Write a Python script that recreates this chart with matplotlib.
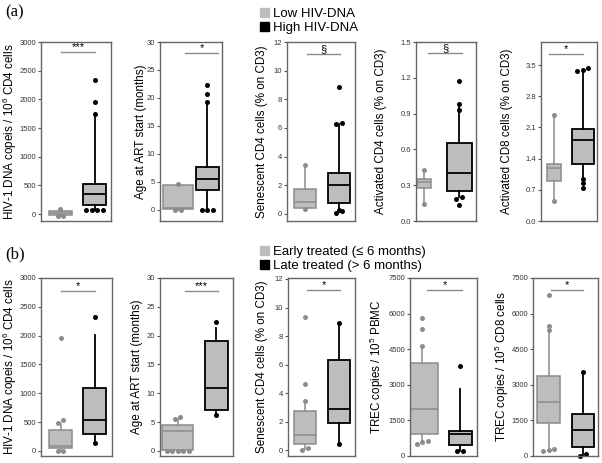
import numpy as np
import matplotlib
matplotlib.use('Agg')
import matplotlib.pyplot as plt
from matplotlib.patches import Patch

plt.rcParams['font.family'] = ['Liberation Sans', 'DejaVu Sans']
plt.rcParams['mathtext.fontset'] = 'custom'
plt.rcParams['mathtext.rm'] = 'Liberation Sans'

#%% data  (whislo, q1, median, q3, whishi)
top_ylabels = ['HIV-1 DNA copeis / 10$^6$ CD4 cells', 'Age at ART start (months)',
               'Senescent CD4 cells (% on CD3)', 'Activated CD4 cells (% on CD3)',
               'Activated CD8 cells (% on CD3)']
top_low = [[-25, -15, 20, 55, 80],
           [0.0, 0.2, 0.3, 4.5, 4.7],
           [0.35, 0.42, 0.82, 1.76, 3.41],
           [0.14, 0.28, 0.33, 0.355, 0.43],
           [0.45, 0.90, 1.18, 1.28, 2.39]]
top_low_fliers = [[-25, -25, 85],
                  [0.0, 0.0, 4.7],
                  [0.35, 3.41],
                  [0.14, 0.43],
                  [0.45, 2.39]]
top_high = [[80, 157, 350, 524, 1740],
            [0.0, 3.5, 5.5, 7.7, 19.3],
            [0.3, 0.75, 1.98, 2.87, 6.3],
            [0.2, 0.25, 0.40, 0.65, 0.98],
            [0.95, 1.28, 1.81, 2.07, 3.38]]
top_high_fliers = [[76, 76, 76, 80, 1740, 1950, 2330],
                   [0.0, 0.0, 0.0, 19.2, 20.7, 22.4],
                   [0.3, 0.22, 0.05, 6.3, 6.35, 8.85],
                   [0.2, 0.185, 0.13, 0.93, 0.98, 1.17],
                   [0.95, 0.85, 0.75, 3.36, 3.40, 3.43]]
top_sig = ['***', '*', '§', '§', '*']
top_sig_y = [2825, 28.0, 11.15, 1.41, 3.75]
top_ylim = [(-120, 3000), (-2, 30), (-0.5, 12), (0, 1.5), (0, 4.02)]
top_ticks = [np.arange(0, 3001, 500), np.arange(0, 31, 5), np.arange(0, 13, 2),
             [0.0, 0.3, 0.6, 0.9, 1.2, 1.5], [0.0, 0.7, 1.4, 2.1, 2.8, 3.5]]
top_fmt = ['{:.0f}', '{:.0f}', '{:.0f}', '{:.1f}', '{:.1f}']

bot_ylabels = ['HIV-1 DNA copeis / 10$^6$ CD4 cells', 'Age at ART start (months)',
               'Senescent CD4 cells (% on CD3)', 'TREC copies / 10$^5$ PBMC',
               'TREC copies / 10$^5$ CD8 cells']
bot_low = [[0, 46, 87, 353, 470],
           [0, 0.17, 3.5, 4.5, 5.5],
           [0.1, 0.42, 1.03, 2.77, 3.45],
           [650, 930, 1974, 3920, 4620],
           [300, 1382, 2285, 3357, 5289]]
bot_low_fliers = [[0, 0, 480, 527, 1957],
                  [0, 0, 0, 0, 0, 5.55, 5.9],
                  [0.0, 0.12, 3.45, 4.6, 9.3],
                  [520, 600, 650, 4620, 5370, 5820],
                  [200, 250, 300, 5290, 5460, 6770]]
bot_high = [[133, 290, 539, 1089, 2015],
            [6.2, 7.0, 10.9, 19.0, 21.4],
            [0.45, 1.92, 2.88, 6.33, 8.9],
            [230, 451, 917, 1072, 2820],
            [0, 395, 1114, 1749, 3526]]
bot_high_fliers = [[133, 2320],
                   [6.2, 22.3],
                   [0.45, 8.9],
                   [210, 230, 3800],
                   [0, 100, 3540]]
bot_sig = ['*', '***', '*', '*', '*']
bot_sig_y = [2780, 27.8, 11.2, 6980, 6980]
bot_ylim = [(-90, 3000), (-0.9, 30), (-0.42, 12.07), (0, 7500), (0, 7500)]
bot_ticks = [np.arange(0, 3001, 500), np.arange(0, 31, 5), np.arange(0, 13, 2),
             np.arange(0, 7501, 1500), np.arange(0, 7501, 1500)]
bot_fmt = ['{:.0f}'] * 5

#%% layout in pixels
W, H = 602, 463
top_frame = [(41, 111), (160, 222), (287, 355), (416, 476), (541, 597)]
top_cen = [(60.5, 94.5), (178, 207), (305, 339), (424, 459), (554, 583)]
top_bw = [(23, 23), (30, 23), (22, 22), (14, 25), (14, 22)]
top_line = [(61, 95), (185, 218), (307, 340), (428, 462), (549, 583)]
top_lab = [10, 141, 262, 381, 507]
bot_frame = [(41, 112), (160, 233), (288, 355), (410, 477), (533, 598)]
bot_cen = [(60.5, 94.5), (177.5, 216), (305, 339), (422, 460), (549, 583)]
bot_bw = [(23, 23), (31, 23), (22, 22), (32, 23), (23, 22)]
bot_line = [(61, 95), (185, 218), (307, 340), (427, 462), (551, 583)]
bot_lab = [10, 137, 262, 377, 502]

fill = '#bdbdbd'
grey = '#8c8c8c'


def spread(vals, center, yr):
    # put equal values next to each other
    vals = sorted(vals)
    xs, ys = [], []
    i = 0
    while i < len(vals):
        j = i
        while j + 1 < len(vals) and abs(vals[j + 1] - vals[i]) < 0.02 * yr:
            j += 1
        n = j - i + 1
        for k in range(n):
            xs.append(center + (k - (n - 1) / 2) * 5.5)
            ys.append(vals[i + k])
        i = j + 1
    return xs, ys


def panel(frame, y0, y1, cen, bw, line, labx, low, lowf, high, highf, sig, sigy,
          ylim, ticks, fmt, ylabel):
    ax = fig.add_axes([frame[0] / W, 1 - y1 / H, (frame[1] - frame[0]) / W, (y1 - y0) / H])
    yr = ylim[1] - ylim[0]
    for s, fl, c, w, col, lw in [(low, lowf, cen[0], bw[0], grey, 1.1),
                                 (high, highf, cen[1], bw[1], 'black', 1.3)]:
        st = dict(whislo=s[0], q1=s[1], med=s[2], q3=s[3], whishi=s[4], fliers=[])
        ax.bxp([st], positions=[c], widths=w, showcaps=False, patch_artist=True,
               boxprops=dict(facecolor=fill, edgecolor=col, linewidth=lw),
               medianprops=dict(color=col, linewidth=lw),
               whiskerprops=dict(color=col, linewidth=lw))
        xs, ys = spread(fl, c, yr)
        ax.plot(xs, ys, 'o', color=col, markersize=3.6, markeredgewidth=0, clip_on=False)
    ax.plot(line, [sigy, sigy], color=grey, linewidth=1)
    ax.text((line[0] + line[1]) / 2, sigy, sig, ha='center', va='bottom', fontsize=8)
    ax.set_xlim(frame)
    ax.set_ylim(ylim)
    ax.set_xticks([])
    ax.set_yticks(ticks)
    ax.set_yticklabels([fmt.format(t) for t in ticks])
    ax.tick_params(axis='y', labelsize=5.5, length=2.5, width=0.8, pad=1,
                   colors='#555555', labelcolor='#333333')
    for sp in ax.spines.values():
        sp.set_color('#666666')
        sp.set_linewidth(1)
    ax.set_ylabel(ylabel, fontsize=8.4, va='center')
    ax.yaxis.set_label_coords((labx - frame[0]) / (frame[1] - frame[0]), 0.5)
    return ax


fig = plt.figure(figsize=(6.02, 4.63), dpi=100)

for i in range(5):
    panel(top_frame[i], 42, 221, top_cen[i], top_bw[i], top_line[i], top_lab[i],
          top_low[i], top_low_fliers[i], top_high[i], top_high_fliers[i],
          top_sig[i], top_sig_y[i], top_ylim[i], top_ticks[i], top_fmt[i], top_ylabels[i])
    panel(bot_frame[i], 278, 456, bot_cen[i], bot_bw[i], bot_line[i], bot_lab[i],
          bot_low[i], bot_low_fliers[i], bot_high[i], bot_high_fliers[i],
          bot_sig[i], bot_sig_y[i], bot_ylim[i], bot_ticks[i], bot_fmt[i], bot_ylabels[i])

fig.legend([Patch(color=fill), Patch(color='black')], ['Low HIV-DNA', 'High HIV-DNA'],
           loc='upper left', bbox_to_anchor=(252 / W, 1.0), frameon=False, fontsize=9.5,
           handlelength=0.7, handleheight=0.7, handletextpad=0.3, labelspacing=0.15,
           borderpad=0.1)
fig.legend([Patch(color=fill), Patch(color='black')],
           ['Early treated (≤ 6 months)', 'Late treated (> 6 months)'],
           loc='upper left', bbox_to_anchor=(252 / W, 1 - 238 / H), frameon=False, fontsize=9.5,
           handlelength=0.7, handleheight=0.7, handletextpad=0.3, labelspacing=0.15,
           borderpad=0.1)

fig.text(5 / W, 1 - 12 / H, '(a)', fontsize=12, family='Liberation Serif', va='center')
fig.text(5 / W, 1 - 254 / H, '(b)', fontsize=12, family='Liberation Serif', va='center')

fig.savefig('out.png', dpi=100)
